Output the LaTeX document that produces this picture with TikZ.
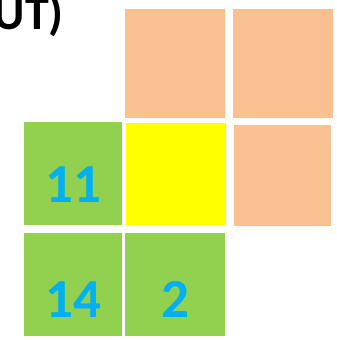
\documentclass[tikz,border=0pt]{standalone}
\usepackage{fontspec}
\setmainfont{Carlito}
\definecolor{cellorange}{HTML}{F9C191}
\definecolor{cellgreen}{HTML}{92D050}
\definecolor{cellyellow}{HTML}{FFFF00}
\definecolor{numblue}{HTML}{00B0F0}
\tikzset{
  cell/.style={draw=none, inner sep=0pt, outer sep=0pt},
  num/.style={anchor=base, inner sep=0pt, text=numblue, font=\fontsize{55}{60}\selectfont\bfseries},
}
\newcommand{\cellbox}[6]{% name, color, x1, y1, x2, y2
  \node[cell, fill=#2, minimum width={(#5-#3)*1pt}, minimum height={(#6-#4)*1pt}] (#1) at ({(#3+#5)/2},{(#4+#6)/2}) {};
}
\begin{document}
\begin{tikzpicture}[x=1pt,y=-1pt]
\useasboundingbox (0,0) rectangle (337,340);
\cellbox{oa}{cellorange}{125}{9}{225}{118}
\cellbox{ob}{cellorange}{233}{9}{333}{118}
\cellbox{ga}{cellgreen}{24}{122}{122}{225}
\cellbox{ya}{cellyellow}{126}{123}{226}{225}
\cellbox{oc}{cellorange}{234}{125}{331}{226}
\cellbox{gb}{cellgreen}{24}{233}{122}{336}
\cellbox{gc}{cellgreen}{125}{233}{225}{336}
\node[num] (n11) at (ga.center |- 0,202) {11};
\node[num] (n14) at (gb.center |- 0,317) {14};
\node[num] (n2) at (gc.center |- 0,317) {2};
\node[anchor=base east, inner sep=0pt, font=\fontsize{48}{52}\selectfont\bfseries] (title) at (64,29) {UT)};
\end{tikzpicture}
\end{document}
